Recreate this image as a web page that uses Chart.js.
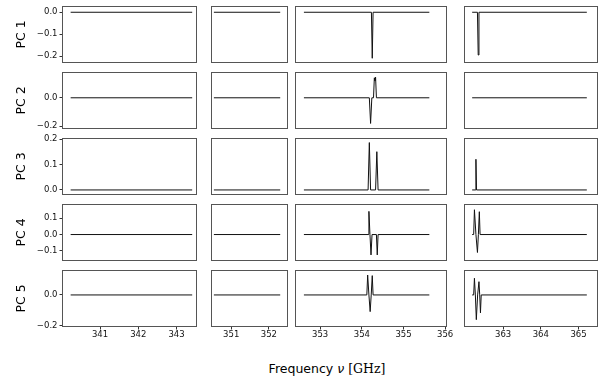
<!DOCTYPE html>
<html>
<head>
<meta charset="utf-8">
<script src="https://cdn.jsdelivr.net/npm/chart.js@4.4.1/dist/chart.umd.min.js"></script>
<style>
  html, body { margin: 0; padding: 0; background: #fff; }
  #wrap { position: relative; width: 601px; height: 383px; overflow: hidden; }
  #wrap canvas { position: absolute; }
  #xlabel {
    position: absolute; left: 0; width: 654px; top: 361px; text-align: center;
    font-family: 'DejaVu Sans', sans-serif; font-size: 12.5px; color: #000;
  }
  #xlabel .nu { font-style: italic; }
  #xlabel .unit { font-family: 'DejaVu Serif', serif; }
</style>
</head>
<body>
<div id="wrap">
  <div id="xlabel">Frequency <span class="nu">ν</span> <span class="unit">[GHz]</span></div>
</div>
<script>
// ── Datos ──
const pcNames = ['PC 1', 'PC 2', 'PC 3', 'PC 4', 'PC 5'];

// rangos de frecuencia de cada columna (GHz)
const nuMin = [340.03, 350.49, 352.42, 361.99];
const nuMax = [343.51, 352.48, 356.02, 365.49];
const nuTicks = [[341, 342, 343], [351, 352], [353, 354, 355, 356], [363, 364, 365]];

// rango vertical de cada fila
const pcMin = [-0.227, -0.212, -0.016, -0.156, -0.201];
const pcMax = [0.024, 0.174, 0.201, 0.181, 0.155];
const pcTicks = [[-0.2, -0.1, 0.0], [-0.2, 0.0], [0.0, 0.1, 0.2], [-0.1, 0.0, 0.1], [-0.2, 0.0]];

// columnas 1 y 2: sin señal
const c1_nu = [340.23, 343.41];
const c2_nu = [350.54, 352.3];
const flat = [0, 0];

// columna 3
const c3_pc1_nu = [352.61, 354.23, 354.25, 354.27, 355.62];
const c3_pc1    = [0, 0, -0.21, 0, 0];
const c3_pc2_nu = [352.61, 354.18, 354.21, 354.24, 354.28, 354.30, 354.315, 354.33, 354.35, 355.62];
const c3_pc2    = [0, 0, -0.18, 0, 0, 0.14, 0.12, 0.145, 0, 0];
const c3_pc3_nu = [352.61, 354.15, 354.18, 354.21, 354.33, 354.36, 354.39, 355.62];
const c3_pc3    = [0, 0, 0.187, 0, 0, 0.151, 0, 0];
const c3_pc4_nu = [352.61, 354.15, 354.17, 354.195, 354.22, 354.245, 354.35, 354.37, 354.39, 355.62];
const c3_pc4    = [0, 0, 0.142, 0, -0.125, 0, 0, -0.125, 0, 0];
const c3_pc5_nu = [352.61, 354.12, 354.14, 354.17, 354.20, 354.225, 354.25, 354.27, 355.62];
const c3_pc5    = [0, 0, 0.129, 0, -0.108, 0, 0.125, 0, 0];

// columna 4
const c4_pc1_nu = [362.18, 362.32, 362.34, 362.36, 365.22];
const c4_pc1    = [0, 0, -0.195, 0, 0];
const c4_pc2_nu = [362.18, 365.22];
const c4_pc2    = [0, 0];
const c4_pc3_nu = [362.18, 362.265, 362.28, 362.295, 365.22];
const c4_pc3    = [0, 0, 0.121, 0, 0];
const c4_pc4_nu = [362.18, 362.22, 362.24, 362.28, 362.32, 362.345, 362.37, 362.39, 365.22];
const c4_pc4    = [0, 0, 0.152, 0, -0.11, 0, 0.14, 0, 0];
const c4_pc5_nu = [362.18, 362.22, 362.24, 362.265, 362.29, 362.325, 362.36, 362.38, 362.40, 362.42, 365.22];
const c4_pc5    = [0, 0, 0.108, 0, -0.16, 0, 0.086, 0, -0.116, 0, 0];

const series = [
  [[c1_nu, flat], [c2_nu, flat], [c3_pc1_nu, c3_pc1], [c4_pc1_nu, c4_pc1]],
  [[c1_nu, flat], [c2_nu, flat], [c3_pc2_nu, c3_pc2], [c4_pc2_nu, c4_pc2]],
  [[c1_nu, flat], [c2_nu, flat], [c3_pc3_nu, c3_pc3], [c4_pc3_nu, c4_pc3]],
  [[c1_nu, flat], [c2_nu, flat], [c3_pc4_nu, c3_pc4], [c4_pc4_nu, c4_pc4]],
  [[c1_nu, flat], [c2_nu, flat], [c3_pc5_nu, c3_pc5], [c4_pc5_nu, c4_pc5]],
];

// ── Maquetación ──
const COL_L = [63, 212, 296, 465];
const COL_W = [133, 75, 150, 132];
const ROW_T = [7, 73, 139, 205, 271];
const ROW_H = 55;
const LEFT_W = 61;    // eje y de la primera columna
const BOTTOM_H = 22;  // eje x de la última fila
const PAD = 12;

const FONT = 'DejaVu Sans';
const fmtY = v => (v < 0 ? '\u2212' : '') + Math.abs(v).toFixed(1);

const frame = {
  id: 'frame',
  afterDraw(chart) {
    const { ctx, chartArea: a } = chart;
    ctx.save();
    ctx.strokeStyle = '#555';
    ctx.lineWidth = 1;
    ctx.strokeRect(a.left - 0.5, a.top - 0.5, a.right - a.left + 1, a.bottom - a.top + 1);
    ctx.restore();
  },
};

const wrap = document.getElementById('wrap');

series.forEach((rowSeries, r) => {
  rowSeries.forEach(([nu, val], c) => {
    const showY = c === 0;
    const showX = r === series.length - 1;
    const lw = showY ? LEFT_W : 0;
    const bh = showX ? BOTTOM_H : 0;
    const padL = showY ? 0 : PAD;

    const cv = document.createElement('canvas');
    const w = COL_W[c] + lw + padL + PAD;
    const h = ROW_H + bh + 2 * PAD;
    cv.width = w; cv.height = h;
    cv.style.width = w + 'px'; cv.style.height = h + 'px';
    cv.style.left = (COL_L[c] - lw - padL) + 'px';
    cv.style.top = (ROW_T[r] - PAD) + 'px';
    wrap.appendChild(cv);

    new Chart(cv.getContext('2d'), {
      type: 'line',
      data: {
        datasets: [{
          data: nu.map((x, i) => ({ x, y: val[i] })),
          borderColor: '#111', borderWidth: 1,
          pointRadius: 0, fill: false, tension: 0,
        }],
      },
      options: {
        responsive: false,
        animation: false,
        devicePixelRatio: 1,
        layout: { padding: { left: padL, right: PAD, top: PAD, bottom: PAD } },
        plugins: { legend: { display: false }, tooltip: { enabled: false } },
        scales: {
          x: {
            type: 'linear', min: nuMin[c], max: nuMax[c],
            display: showX,
            afterBuildTicks: s => { s.ticks = nuTicks[c].map(v => ({ value: v })); },
            afterFit: s => {
              if (showX) s.height = BOTTOM_H;
              s.paddingLeft = 0; s.paddingRight = 0;
            },
            ticks: { color: '#111', font: { family: FONT, size: 8.5 }, padding: 0, maxRotation: 0,
                     callback: v => String(v) },
            grid: { display: true, drawOnChartArea: false, drawTicks: true, tickLength: 3.5, color: '#333' },
            border: { display: false },
          },
          y: {
            type: 'linear', min: pcMin[r], max: pcMax[r],
            display: showY,
            afterBuildTicks: s => { s.ticks = pcTicks[r].map(v => ({ value: v })); },
            afterFit: s => {
              if (showY) s.width = LEFT_W;
              s.paddingTop = 0; s.paddingBottom = 0;
            },
            ticks: { color: '#111', font: { family: FONT, size: 8.5 }, padding: 2, callback: fmtY },
            grid: { display: true, drawOnChartArea: false, drawTicks: true, tickLength: 3.5, color: '#333' },
            border: { display: false },
            title: { display: true, text: pcNames[r], color: '#000',
                     font: { family: FONT, size: 12.5 }, padding: { top: 12, bottom: 0 } },
          },
        },
      },
      plugins: [frame],
    });
  });
});
</script>
</body>
</html>
